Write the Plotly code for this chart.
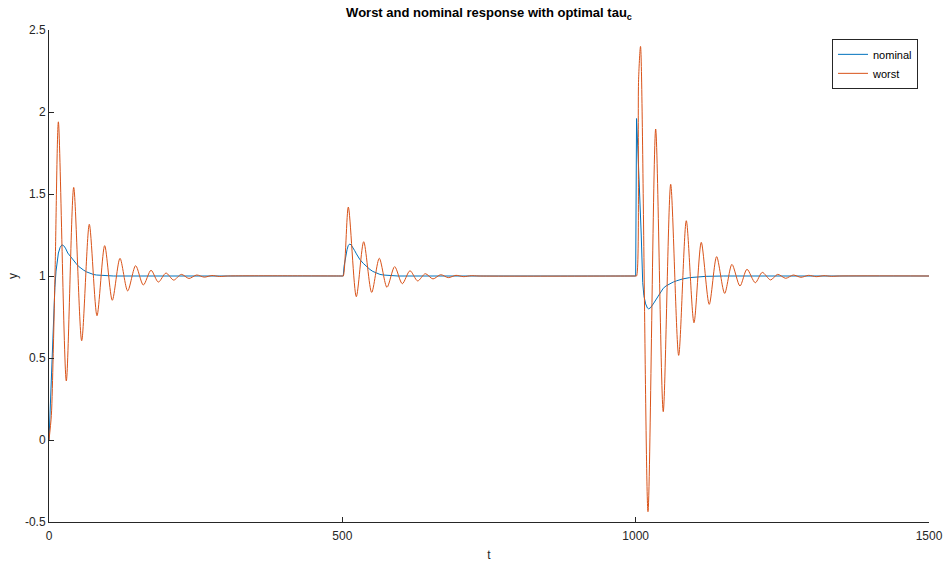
import plotly.graph_objects as go

# ---- data ----
nominal_t = [0, 2, 4, 6, 8, 10, 12, 14, 16, 19, 22, 25, 28, 32, 36, 41.5, 46, 50, 54, 58.5,
             64, 70, 76, 81, 90, 100, 110, 500,
             501.6, 503, 504.5, 506.2, 508, 510, 512.5, 515, 518, 521, 524, 530, 535.7, 541, 547,
             552, 558.5, 564, 570, 581, 595, 1000,
             1001.5, 1004, 1006.5, 1009.5, 1012, 1014, 1017, 1020, 1022, 1025, 1030, 1035, 1040,
             1047, 1052, 1058, 1064, 1070, 1080, 1092, 1105, 1120, 1150, 1500]
nominal_y = [0, 0.2, 0.43, 0.62, 0.8, 0.93, 1.03, 1.1, 1.14, 1.175, 1.19, 1.185, 1.17, 1.14, 1.12, 1.098, 1.077, 1.06, 1.048, 1.037,
             1.025, 1.015, 1.009, 1.006, 1.003, 1.001, 1.0, 1.0,
             1.0, 1.06, 1.1, 1.128, 1.16, 1.185, 1.195, 1.19, 1.175, 1.155, 1.135, 1.1, 1.077, 1.057, 1.04,
             1.028, 1.016, 1.01, 1.006, 1.002, 1.0, 1.0,
             1.96, 1.75, 1.55, 1.25, 0.96, 0.88, 0.83, 0.805, 0.80, 0.805, 0.83, 0.86, 0.89,
             0.925, 0.94, 0.953, 0.963, 0.971, 0.982, 0.99, 0.995, 0.998, 1.0, 1.0]

worst_t = [0, 4, 7, 10.5, 16, 29.5, 42.1, 55.7, 68.7, 81.8, 94.9, 107.9, 121, 134.1, 147.7, 160.8,
           173.9, 186.4, 199.4, 212.5, 225.5, 238.6, 251.6, 264.7, 277.7, 290.8, 304, 500,
           501.6, 510.2, 523.8, 536.4, 550, 563, 576.1, 589.2, 602.2, 615.3, 628.4, 641.4, 654.5,
           667.6, 680.6, 693.7, 706.7, 719.8, 733, 1000,
           1001.5, 1005, 1008.3, 1021, 1034.1, 1047, 1059.7, 1073.3, 1086.3, 1099.4, 1111.8, 1125.4,
           1138, 1151.7, 1164.1, 1177.8, 1189.7, 1203.9, 1215.8, 1230, 1242, 1255.7, 1268.6, 1281.7,
           1294.8, 1307.8, 1320.9, 1334, 1347, 1500]
worst_y = [0, 0.15, 0.5, 1.05, 1.94, 0.36, 1.54, 0.605, 1.315, 0.758, 1.185, 0.852, 1.108, 0.909, 1.063, 0.945,
           1.035, 0.963, 1.018, 0.975, 1.01, 0.985, 1.006, 0.993, 1.003, 0.997, 1.0, 1.0,
           1.0, 1.42, 0.874, 1.209, 0.90, 1.108, 0.931, 1.057, 0.953, 1.032, 0.970, 1.014, 0.982,
           1.008, 0.99, 1.004, 0.996, 1.002, 1.0, 1.0,
           1.0, 2.2, 2.40, -0.437, 1.896, 0.173, 1.559, 0.516, 1.337, 0.715, 1.205, 0.827,
           1.118, 0.894, 1.071, 0.939, 1.041, 0.959, 1.022, 0.976, 1.01, 0.986, 1.006, 0.992,
           1.004, 0.996, 1.002, 0.998, 1.0, 1.0]

x_ticks = [0, 500, 1000, 1500]
y_ticks = [-0.5, 0, 0.5, 1, 1.5, 2, 2.5]
y_tick_labels = ["-0.5", "0", "0.5", "1", "1.5", "2", "2.5"]

AX = "#262626"
FONT = "Liberation Sans, Arial, sans-serif"

fig = go.Figure()
fig.add_trace(go.Scatter(x=nominal_t, y=nominal_y, mode="lines", name="nominal",
                         line=dict(color="#0072BD", width=1, shape="linear")))
fig.add_trace(go.Scatter(x=worst_t, y=worst_y, mode="lines", name="worst",
                         line=dict(color="#D95319", width=1, shape="spline", smoothing=0.8)))

fig.update_layout(
    width=945, height=563,
    margin=dict(l=49, r=16, t=30, b=41, autoexpand=False),
    paper_bgcolor="white", plot_bgcolor="white",
    font=dict(family=FONT, size=12, color=AX),
    title=dict(text="<b>Worst and nominal response with optimal tau<sub>c</sub></b>",
               x=0.5, xref="paper", xanchor="center", y=0.977, yref="container", yanchor="middle",
               font=dict(family=FONT, size=13, color="black")),
    xaxis=dict(range=[0, 1500], tickvals=x_ticks, showline=True, linecolor=AX, linewidth=1,
               ticks="inside", ticklen=5, tickcolor=AX, showgrid=False, zeroline=False,
               automargin=False, ticklabelstandoff=3, tickfont=dict(size=12),
               title=dict(text="t", standoff=8, font=dict(size=12)), mirror=False),
    yaxis=dict(range=[-0.5, 2.5], tickvals=y_ticks, ticktext=y_tick_labels, showline=True,
               linecolor=AX, linewidth=1, ticks="inside", ticklen=5, tickcolor=AX,
               showgrid=False, zeroline=False, automargin=False, tickfont=dict(size=12),
               title=dict(text="y", standoff=4, font=dict(size=12)), mirror=False),
    legend=dict(x=0.9875, xanchor="right", y=0.982, yanchor="top", bgcolor="white",
                bordercolor=AX, borderwidth=1, font=dict(size=11, color="black"),
                tracegroupgap=0, itemwidth=30),
    showlegend=True,
)

fig.write_html("out.html", config={"displayModeBar": False},
               post_script="document.body.style.margin='0';document.body.style.overflow='hidden';")
